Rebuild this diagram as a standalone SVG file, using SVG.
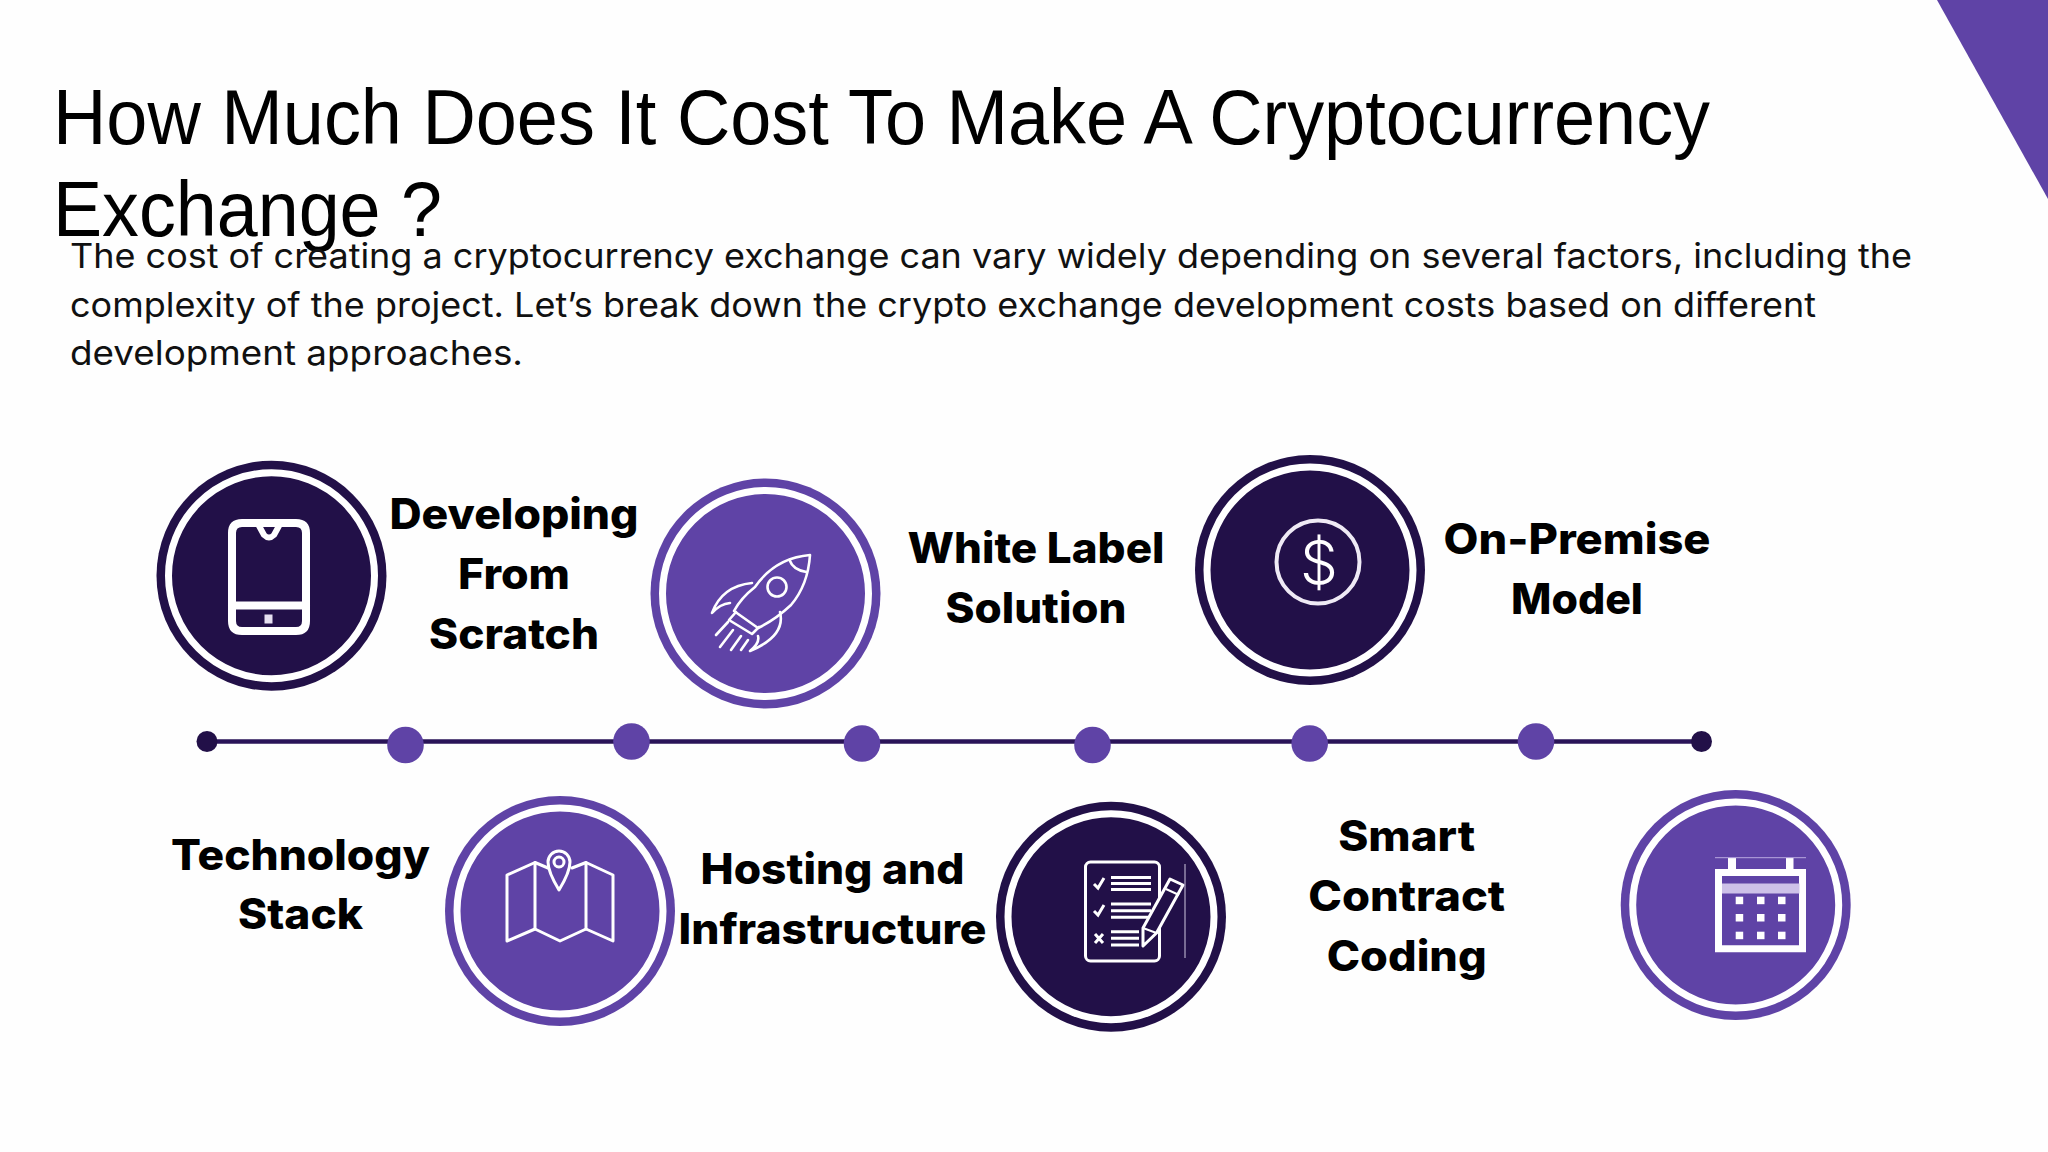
<svg xmlns="http://www.w3.org/2000/svg" width="2048" height="1152" viewBox="0 0 2048 1152">
<style>
.title{font-family:"Liberation Sans",Arial,sans-serif;font-size:78px;fill:#000}
.body{font-family:"Inter","Noto Sans",sans-serif;font-size:34px;fill:#111}
.lbl{font-family:"Inter","Noto Sans",sans-serif;font-size:42px;font-weight:800;fill:#000;text-anchor:middle}
.dark{fill:#221048}.pur{fill:#5f43a6}
.ring{fill:none;stroke:#fff;stroke-width:7}
.ic{fill:none;stroke:#fff;stroke-linecap:round;stroke-linejoin:round}
</style>
<defs><clipPath id="cut"><rect x="1190" y="450" width="240" height="235"/></clipPath></defs>
<rect width="2048" height="1152" fill="#fefefe"/>
<polygon class="pur" points="1937,0 2048,0 2048,199"/>
<text class="title" x="53" y="143.500" textLength="1657" lengthAdjust="spacingAndGlyphs">How Much Does It Cost To Make A Cryptocurrency</text>
<text class="title" x="53" y="236" textLength="389" lengthAdjust="spacingAndGlyphs">Exchange ?</text>
<text class="body" x="70" y="268" textLength="1842" lengthAdjust="spacingAndGlyphs">The cost of creating a cryptocurrency exchange can vary widely depending on several factors, including the</text>
<text class="body" x="70" y="316.500" textLength="1746" lengthAdjust="spacingAndGlyphs">complexity of the project. Let’s break down the crypto exchange development costs based on different</text>
<text class="body" x="70" y="365" textLength="453" lengthAdjust="spacingAndGlyphs">development approaches.</text>

<g id="connectors">
<line x1="207" y1="741.500" x2="1702" y2="741.500" stroke="#2a1458" stroke-width="4.600"/>
<circle class="dark" cx="207" cy="741.500" r="10.500"/>
<circle class="dark" cx="1701.500" cy="741.500" r="10.500"/>
<circle class="pur" cx="405.500" cy="745" r="18.300"/>
<circle class="pur" cx="631.500" cy="741.500" r="18.300"/>
<circle class="pur" cx="862" cy="743.500" r="18.300"/>
<circle class="pur" cx="1092.500" cy="745" r="18.300"/>
<circle class="pur" cx="1309.700" cy="743.500" r="18.300"/>
<circle class="pur" cx="1536" cy="741.500" r="18.300"/>
</g>

<g id="node-developing">
<circle class="dark" cx="271.500" cy="575.700" r="115"/><circle class="ring" cx="271.500" cy="575.700" r="103"/>
<g class="ic" stroke-width="8">
<path d="M242 523H296Q306 523 306 533V621Q306 631 296 631H242Q232 631 232 621V533Q232 523 242 523Z"/>
<path d="M232 605.500H306"/>
<path d="M258 524L264 535Q269 540 274 535L280 524" stroke-width="6"/>
</g>
<rect x="264.500" y="614.500" width="8" height="9" fill="#e6e0f0"/>
<text class="lbl" x="514" y="529" textLength="249" lengthAdjust="spacingAndGlyphs">Developing</text>
<text class="lbl" x="514" y="589" textLength="112" lengthAdjust="spacingAndGlyphs">From</text>
<text class="lbl" x="514" y="648.500" textLength="170" lengthAdjust="spacingAndGlyphs">Scratch</text>
</g>

<g id="node-white-label">
<circle class="pur" cx="765.500" cy="593.500" r="115"/><circle class="ring" cx="765.500" cy="593.500" r="103"/>
<g class="ic" stroke-width="2.600">
<path d="M810 555Q775 558 755 587Q741 598 734 611L758 628Q775 620 791 605Q808 585 810 555Z"/>
<path d="M789.500 560Q793 570 806.500 572"/>
<circle cx="777" cy="587" r="9.500"/>
<path d="M752 583Q722 586 712 613Q720 604 730 603"/>
<path d="M780 612Q786 636 750 651Q760 643 758 636"/>
<path d="M736 612L729 620L752 634L759 627"/>
<path d="M728 622L716 635M733 630L720 647M741 636L731 650M748 640L741 650"/>
</g>
<text class="lbl" x="1036" y="563" textLength="257" lengthAdjust="spacingAndGlyphs">White Label</text>
<text class="lbl" x="1036" y="623" textLength="181" lengthAdjust="spacingAndGlyphs">Solution</text>
</g>

<g id="node-on-premise">
<circle class="dark" cx="1310" cy="570" r="115" clip-path="url(#cut)"/>
<circle class="ring" cx="1310" cy="570" r="103"/>
<circle cx="1318" cy="562" r="41.500" fill="none" stroke="#efeaf5" stroke-width="4"/>
<text x="1319" y="584" font-family="'Inter','Noto Sans',sans-serif" font-size="60" font-weight="300" fill="#fff" text-anchor="middle">$</text>
<text class="lbl" x="1577" y="553.500" textLength="267" lengthAdjust="spacingAndGlyphs">On-Premise</text>
<text class="lbl" x="1577" y="613.500" textLength="132" lengthAdjust="spacingAndGlyphs">Model</text>
</g>

<g id="node-technology">
<circle class="pur" cx="560" cy="911" r="115"/><circle class="ring" cx="560" cy="911" r="103"/>
<g class="ic" stroke-width="3">
<path d="M548 868L535 862.500L507 875V941L535 929L560 941L586 929L613 941V875L586 862.500L572 868"/>
<path d="M535 862.500V929M586 862.500V929"/>
<path d="M559 890Q548 872 548 862A11 11 0 0 1 570 862Q570 872 559 890Z"/>
<circle cx="559" cy="862" r="5"/>
</g>
<text class="lbl" x="300.500" y="869.500" textLength="259" lengthAdjust="spacingAndGlyphs">Technology</text>
<text class="lbl" x="300.500" y="928.500" textLength="125" lengthAdjust="spacingAndGlyphs">Stack</text>
</g>

<g id="node-hosting">
<circle class="dark" cx="1111" cy="916.700" r="115"/><circle class="ring" cx="1111" cy="916.700" r="103"/>
<rect x="1085.500" y="862" width="74" height="99" rx="5" fill="none" stroke="#fff" stroke-width="3"/>
<path d="M1111 877.500H1151M1111 883.500H1151M1111 889.500H1151M1111 904H1151M1111 910.700H1151M1111 917.300H1148M1111 931.700H1139M1111 938.300H1139M1111 945H1139" stroke="#fff" stroke-width="3" fill="none"/>
<path d="M1094 884L1098 888L1104 878M1094 911L1098 915L1104 905M1095 934L1103 943M1103 934L1095 943" stroke="#fff" stroke-width="3" fill="none"/>
<path d="M1170 879L1183 885L1156.500 933L1143 946L1143 928Z" fill="#221048" stroke="#fff" stroke-width="3" stroke-linejoin="round"/>
<path d="M1143 928L1156.500 933M1166 889L1179 895" stroke="#fff" stroke-width="2" fill="none"/>
<line x1="1185" y1="864" x2="1185" y2="958" stroke="#cfc8df" stroke-width="1"/>
<text class="lbl" x="832.500" y="883.500" textLength="264" lengthAdjust="spacingAndGlyphs">Hosting and</text>
<text class="lbl" x="832.500" y="943.500" textLength="308" lengthAdjust="spacingAndGlyphs">Infrastructure</text>
</g>

<g id="node-smart-contract">
<circle class="pur" cx="1735.700" cy="905" r="115"/><circle class="ring" cx="1735.700" cy="905" r="103"/>
<path d="M1718.500 872.500H1802.500V948.800H1718.500Z" fill="none" stroke="#fff" stroke-width="7"/>
<rect x="1722" y="883.500" width="77.500" height="10" fill="#cdc1e8"/>
<rect x="1728" y="858" width="8" height="13" fill="#fff"/><rect x="1786" y="858" width="7.500" height="13" fill="#fff"/>
<line x1="1715" y1="857.700" x2="1806" y2="857.700" stroke="#b9a9e0" stroke-width="1"/>
<g fill="#fff">
<rect x="1735.700" y="896.700" width="7.500" height="7.500"/><rect x="1757" y="896.700" width="7.500" height="7.500"/><rect x="1778" y="896.700" width="7.500" height="7.500"/>
<rect x="1735.700" y="914" width="7.500" height="7.500"/><rect x="1757" y="914" width="7.500" height="7.500"/><rect x="1778" y="914" width="7.500" height="7.500"/>
<rect x="1735.700" y="931.700" width="7.500" height="7.500"/><rect x="1757" y="931.700" width="7.500" height="7.500"/><rect x="1778" y="931.700" width="7.500" height="7.500"/>
</g>
<text class="lbl" x="1406.700" y="851" textLength="137" lengthAdjust="spacingAndGlyphs">Smart</text>
<text class="lbl" x="1406.700" y="911" textLength="197" lengthAdjust="spacingAndGlyphs">Contract</text>
<text class="lbl" x="1406.700" y="971" textLength="160" lengthAdjust="spacingAndGlyphs">Coding</text>
</g>
</svg>
